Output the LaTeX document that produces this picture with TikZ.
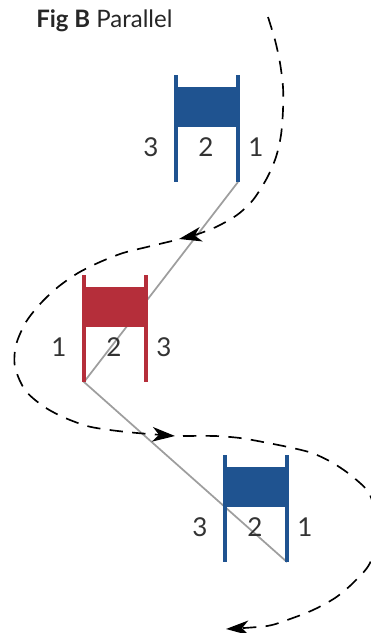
\documentclass[tikz,border=0pt]{standalone}
\usepackage{fontspec}
\setmainfont{Lato}
\usetikzlibrary{arrows.meta}
\definecolor{standBlue}{HTML}{1F5390}
\definecolor{standRed}{HTML}{B52E3A}
\begin{document}
\begin{tikzpicture}
[x=0.75pt,y=-0.75pt,%
  railLine/.style={line width=3pt},%
  standFill/.style={shape=rectangle,inner sep=0pt,minimum width=46.5pt,minimum height=30pt},%
  standLabel/.style={font=\fontsize{19.5}{23}\selectfont,text=black!80},%
  driveLine/.style={draw=black!38,line width=1.3pt},%
  flightLine/.style={line width=1.25pt,dash pattern=on 10pt off 7pt,-{Stealth[length=17pt,width=11pt,inset=5pt]}}]
\useasboundingbox (0,0) rectangle (371,633);
%% title
\node[anchor=base west,inner sep=0pt,font=\fontsize{18}{21}\selectfont,text=black!85] (title) at (36,27) {\textbf{Fig B} Parallel};
%% guide lines sit under the stands
\coordinate (topEnd) at (238,182);
\coordinate (midEnd) at (84,382);
\coordinate (lowEnd) at (287,562);
\draw[driveLine] (topEnd) -- (midEnd) -- (lowEnd);
%% stands and their labels
\foreach \nodename/\x/\y/\colour/\lefttext/\righttext in {
  top/176/75/standBlue/3/1, mid/84/275/standRed/1/3, low/225/455/standBlue/3/1}
{
  \node[standFill,fill=\colour] (\nodename Fill) at (\x+31,\y+32) {};
  \coordinate (\nodename A) at (\x,\y);
  \coordinate (\nodename B) at (\x,\y+107);
  \coordinate (\nodename C) at (\x+62,\y);
  \coordinate (\nodename D) at (\x+62,\y+107);
  \draw[railLine,draw=\colour] (\nodename A) -- (\nodename B);
  \draw[railLine,draw=\colour] (\nodename C) -- (\nodename D);
  \node[standLabel] (\nodename Left) at (\x-25,\y+72) {\lefttext};
  \node[standLabel] (\nodename Mid) at (\x+30,\y+72) {2};
  \node[standLabel] (\nodename Right) at (\x+80,\y+72) {\righttext};
}
%% flight path, one piece per arrow
\coordinate (flightStart) at (268,17);
\coordinate (tipOne) at (179,239);
\coordinate (restOne) at (172,241);
\coordinate (tipTwo) at (175,436);
\coordinate (restTwo) at (183,436);
\coordinate (tipThree) at (226,629);
\draw[flightLine] plot[smooth] coordinates {(flightStart) (275,40) (280,63) (283,87) (283,110) (281,135) (276,157) (267,178) (253,200) (237,215) (216,227) (195,235) (tipOne)};
\draw[flightLine] plot[smooth] coordinates {(restOne) (147,247) (123,253) (100,262) (78,273) (58,287) (41,303) (26,322) (16,345) (15,367) (25,390) (43,406) (63,417) (87,426) (110,430) (137,433) (tipTwo)};
\draw[flightLine] plot[smooth] coordinates {(restTwo) (215,436) (240,438) (263,442) (288,447) (312,453) (333,463) (353,477) (370,495) (378,530) (370,563) (353,583) (335,598) (313,610) (290,619) (267,626) (tipThree)};
\end{tikzpicture}
\end{document}
